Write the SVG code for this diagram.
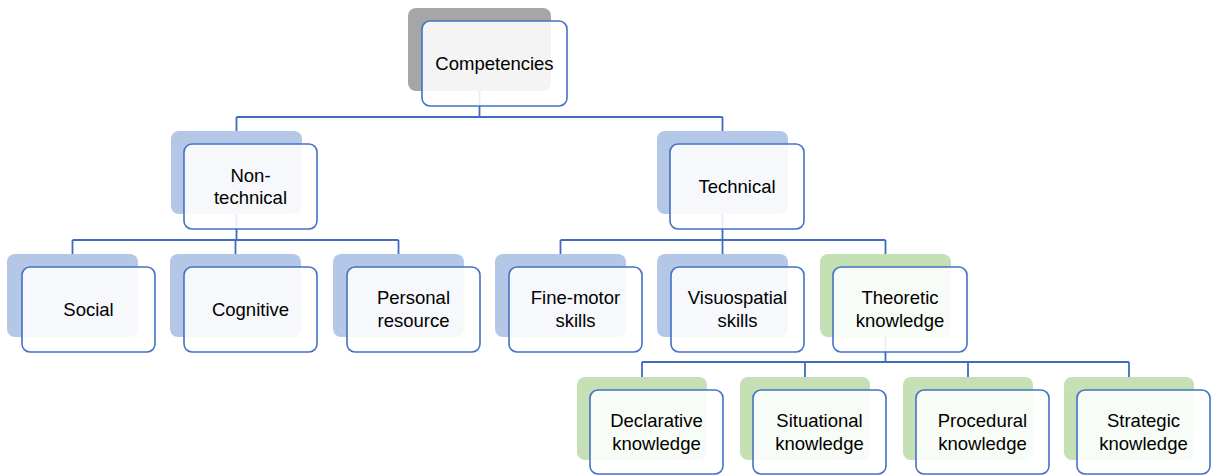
<svg xmlns="http://www.w3.org/2000/svg" width="1212" height="475" viewBox="0 0 1212 475">
<style>
.bk{rx:8px}
.blue{fill:#b4c7e7}
.green{fill:#c5e0b4}
.gray{fill:#a6a6a6}
.fr{fill:#ffffff;fill-opacity:0.88;stroke:#4472c4;stroke-width:1.6}
.t{font-family:"Liberation Sans",Arial,sans-serif;font-size:18.5px;fill:#000;text-anchor:middle}
.c{fill:none;stroke:#3f6cbf;stroke-width:1.8}
</style>
<rect width="1212" height="475" fill="#ffffff"/>
<g id="connectors">
<path class="c" d="M479.5,91V117M236.5,117H722.5M236.5,117V131M722.5,117V131"/>
<path class="c" d="M236.5,213V240M72.5,240H398.5M72.5,240V254M235.5,240V254M398.5,240V254"/>
<path class="c" d="M722.5,213V240M560.5,240H885.5M560.5,240V254M722.5,240V254M885.5,240V254"/>
<path class="c" d="M885.5,337V362M642,362H1129M642,362V377M805,362V377M968,362V377M1129,362V377"/>
</g>
<g id="competencies">
<rect class="gray" x="408" y="8" width="143" height="83" rx="8"/>
<rect class="fr" x="422" y="21" width="145" height="85" rx="8"/>
<text class="t" x="494.5" y="70">Competencies</text>
</g>
<g id="non-technical">
<rect class="blue" x="171" y="131" width="131" height="83" rx="8"/>
<rect class="fr" x="184" y="144" width="133" height="85" rx="8"/>
<text class="t" x="250.5" y="182">Non-</text>
<text class="t" x="250.5" y="204">technical</text>
</g>
<g id="technical">
<rect class="blue" x="657" y="131" width="131" height="83" rx="8"/>
<rect class="fr" x="670" y="144" width="134" height="85" rx="8"/>
<text class="t" x="737" y="193">Technical</text>
</g>
<g id="social">
<rect class="blue" x="7" y="254" width="131" height="83" rx="8"/>
<rect class="fr" x="22" y="267" width="133" height="85" rx="8"/>
<text class="t" x="88.5" y="316">Social</text>
</g>
<g id="cognitive">
<rect class="blue" x="170" y="254" width="131" height="83" rx="8"/>
<rect class="fr" x="184" y="267" width="133" height="85" rx="8"/>
<text class="t" x="250.5" y="316">Cognitive</text>
</g>
<g id="personal-resource">
<rect class="blue" x="333" y="254" width="131" height="83" rx="8"/>
<rect class="fr" x="347" y="267" width="133" height="85" rx="8"/>
<text class="t" x="413.5" y="304">Personal</text>
<text class="t" x="413.5" y="327">resource</text>
</g>
<g id="fine-motor">
<rect class="blue" x="495" y="254" width="131" height="83" rx="8"/>
<rect class="fr" x="509" y="267" width="133" height="85" rx="8"/>
<text class="t" x="575.5" y="304">Fine-motor</text>
<text class="t" x="575.5" y="327">skills</text>
</g>
<g id="visuospatial">
<rect class="blue" x="657" y="254" width="131" height="83" rx="8"/>
<rect class="fr" x="671" y="267" width="133" height="85" rx="8"/>
<text class="t" x="737.5" y="304">Visuospatial</text>
<text class="t" x="737.5" y="327">skills</text>
</g>
<g id="theoretic">
<rect class="green" x="820" y="254" width="131" height="83" rx="8"/>
<rect class="fr" x="833" y="267" width="134" height="85" rx="8"/>
<text class="t" x="900" y="304">Theoretic</text>
<text class="t" x="900" y="327">knowledge</text>
</g>
<g id="declarative">
<rect class="green" x="577" y="377" width="130" height="83" rx="8"/>
<rect class="fr" x="590" y="390" width="133" height="84" rx="8"/>
<text class="t" x="656.5" y="427">Declarative</text>
<text class="t" x="656.5" y="450">knowledge</text>
</g>
<g id="situational">
<rect class="green" x="740" y="377" width="130" height="83" rx="8"/>
<rect class="fr" x="753" y="390" width="133" height="84" rx="8"/>
<text class="t" x="819.5" y="427">Situational</text>
<text class="t" x="819.5" y="450">knowledge</text>
</g>
<g id="procedural">
<rect class="green" x="903" y="377" width="130" height="83" rx="8"/>
<rect class="fr" x="916" y="390" width="133" height="84" rx="8"/>
<text class="t" x="982.5" y="427">Procedural</text>
<text class="t" x="982.5" y="450">knowledge</text>
</g>
<g id="strategic">
<rect class="green" x="1064" y="377" width="130" height="83" rx="8"/>
<rect class="fr" x="1077" y="390" width="133" height="84" rx="8"/>
<text class="t" x="1143.5" y="427">Strategic</text>
<text class="t" x="1143.5" y="450">knowledge</text>
</g>
</svg>
